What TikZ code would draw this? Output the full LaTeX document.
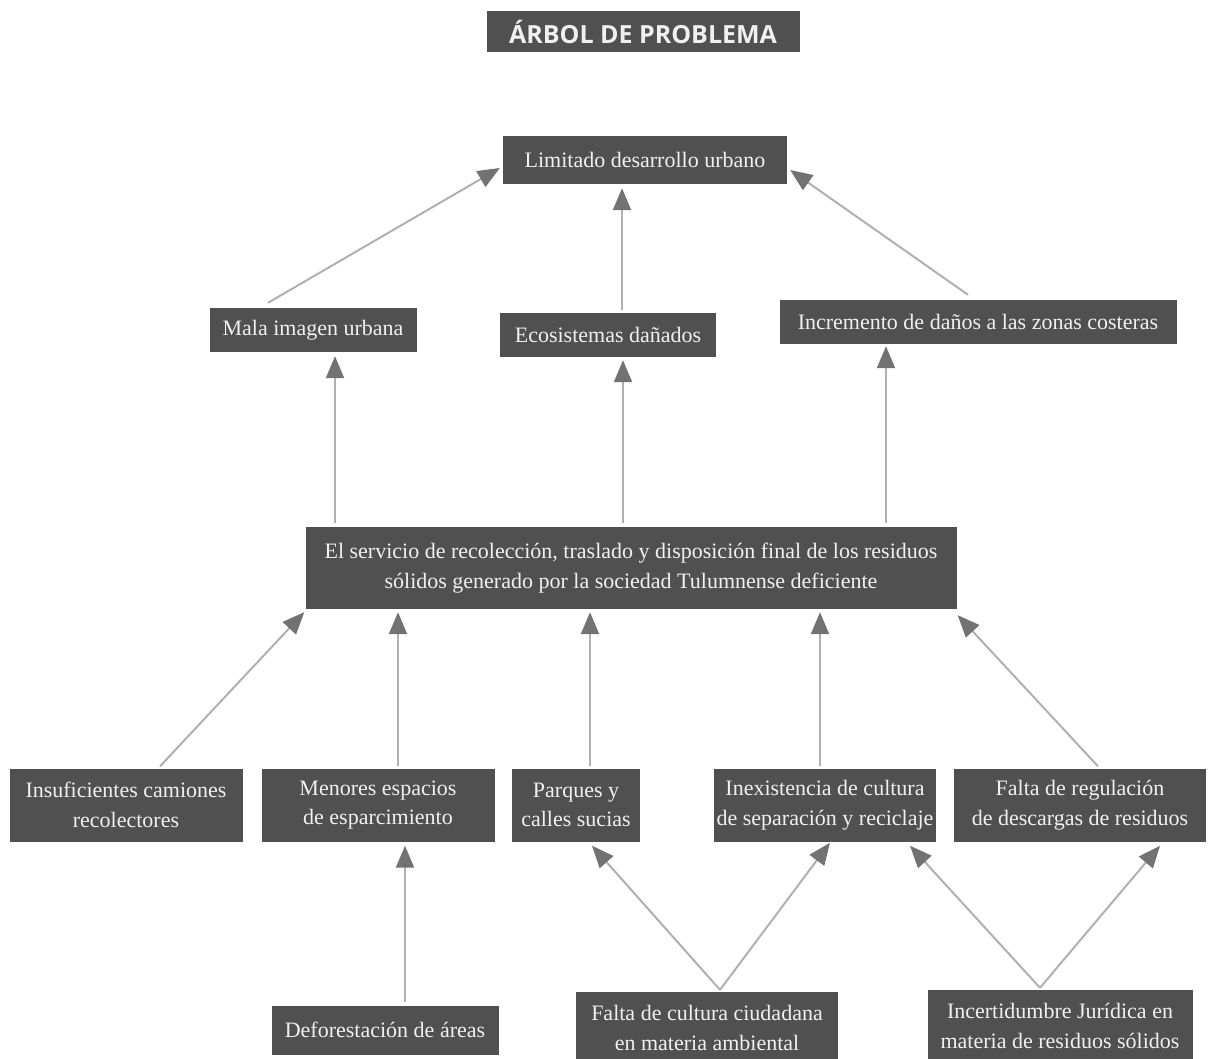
\documentclass[tikz,border=0pt]{standalone}
\usepackage{fontspec}
\setmainfont{Liberation Serif}
\newfontfamily\titlefont{Open Sans}
\usetikzlibrary{arrows.meta}

\definecolor{boxgray}{HTML}{505050}
\definecolor{linegray}{HTML}{B0B0B0}
\definecolor{tipgray}{HTML}{727272}

\tikzset{
    prob/.style={fill=boxgray, text=white!94!black, inner sep=0pt, align=center,
        font=\fontsize{22}{29.5}\selectfont},
    flecha/.style={draw=linegray, line width=2pt,
        -{Triangle[length=22pt, width=18pt, fill=tipgray, color=tipgray]}},
}

\begin{document}
\begin{tikzpicture}[x=1pt, y=-1pt]
    \useasboundingbox (0,0) rectangle (1213,1059);

    \node[prob, minimum width=313pt, minimum height=41pt, font=\titlefont\bfseries\fontsize{25}{29}\selectfont] (titulo) at (643,32) {ÁRBOL DE PROBLEMA};

    % efectos
    \node[prob, minimum width=284pt, minimum height=48pt] (lim) at (645,160) {Limitado desarrollo urbano};
    \node[prob, minimum width=207pt, minimum height=44pt] (mala) at (313,330) {Mala imagen urbana};
    \node[prob, minimum width=216pt, minimum height=44pt] (eco) at (608,335) {Ecosistemas dañados};
    \node[prob, minimum width=397pt, minimum height=44pt] (incr) at (978,322) {Incremento de daños a las zonas costeras};

    % problema central
    \node[prob, minimum width=651pt, minimum height=82pt] (cen) at (631,568)
        {El servicio de recolección, traslado y disposición final de los residuos\\ sólidos generado por la sociedad Tulumnense deficiente};

    % causas
    \node[prob, minimum width=233pt, minimum height=73pt] (ins) at (126,805) {Insuficientes camiones\\ recolectores};
    \node[prob, minimum width=233pt, minimum height=73pt] (men) at (378,805) {Menores espacios\\ de esparcimiento};
    \node[prob, minimum width=128pt, minimum height=73pt] (par) at (576,805) {Parques y\\ calles sucias};
    \node[prob, minimum width=222pt, minimum height=73pt] (inx) at (825,805) {Inexistencia de cultura\\ de separación y reciclaje};
    \node[prob, minimum width=252pt, minimum height=73pt] (fal) at (1080,805) {Falta de regulación\\ de descargas de residuos};

    \node[prob, minimum width=227pt, minimum height=49pt] (def) at (385,1030) {Deforestación de áreas};
    \node[prob, minimum width=262pt, minimum height=72pt] (cul) at (707,1028) {Falta de cultura ciudadana\\ en materia ambiental};
    \node[prob, minimum width=265pt, minimum height=72pt] (jur) at (1060,1026) {Incertidumbre Jurídica en\\ materia de residuos sólidos};

    \draw[flecha] ([xshift=-45pt, yshift=5pt]mala.north) -- ([xshift=-3pt, yshift=-8pt]lim.west);
    \draw[flecha] ([xshift=14pt, yshift=3pt]eco.north) -- ([xshift=-23pt, yshift=-4pt]lim.south);
    \draw[flecha] ([xshift=-10pt, yshift=5pt]incr.north) -- ([xshift=3pt, yshift=-10pt]lim.east);

    \draw[flecha] ([xshift=-296pt, yshift=4pt]cen.north) -- ([xshift=22pt, yshift=-4pt]mala.south);
    \draw[flecha] ([xshift=-8pt, yshift=4pt]cen.north) -- ([xshift=15pt, yshift=-3pt]eco.south);
    \draw[flecha] ([xshift=255pt, yshift=4pt]cen.north) -- ([xshift=-92pt, yshift=-2pt]incr.south);

    \draw[flecha] ([xshift=34pt, yshift=2pt]ins.north) -- ([xshift=-1pt, yshift=-3pt]cen.south west);
    \draw[flecha] ([xshift=20pt, yshift=2pt]men.north) -- ([xshift=-233pt, yshift=-3pt]cen.south);
    \draw[flecha] ([xshift=14pt, yshift=2pt]par.north) -- ([xshift=-41pt, yshift=-3pt]cen.south);
    \draw[flecha] ([xshift=-5pt, yshift=2pt]inx.north) -- ([xshift=189pt, yshift=-3pt]cen.south);
    \draw[flecha] ([xshift=18pt, yshift=2pt]fal.north) -- ([xshift=1pt, yshift=-6pt]cen.south east);

    \draw[flecha] ([xshift=20pt, yshift=3pt]def.north) -- ([xshift=27pt, yshift=-4pt]men.south);
    \draw[flecha] ([xshift=13pt, yshift=2pt]cul.north) -- ([xshift=16pt, yshift=-4pt]par.south);
    \draw[flecha] ([xshift=13pt, yshift=2pt]cul.north) -- ([xshift=5pt, yshift=-1pt]inx.south);
    \draw[flecha] ([xshift=-20pt, yshift=2pt]jur.north) -- ([xshift=85pt, yshift=-4pt]inx.south);
    \draw[flecha] ([xshift=-20pt, yshift=2pt]jur.north) -- ([xshift=80pt, yshift=-4pt]fal.south);
\end{tikzpicture}
\end{document}
